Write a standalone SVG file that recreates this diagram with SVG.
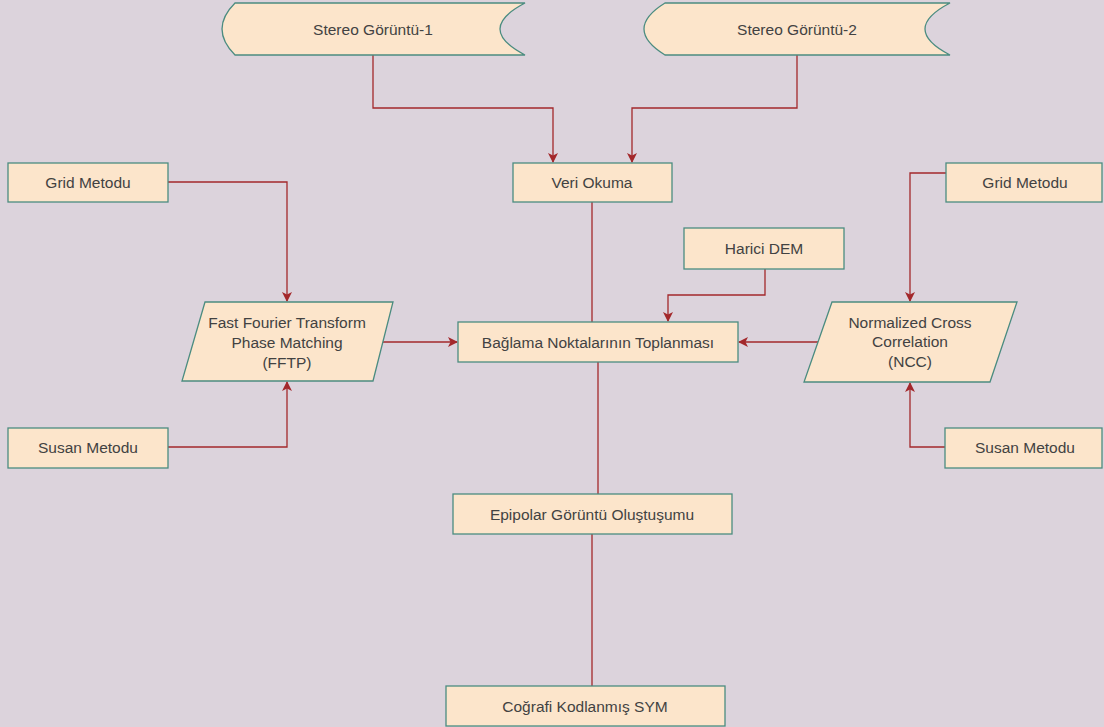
<svg xmlns="http://www.w3.org/2000/svg" width="1104" height="727" viewBox="0 0 1104 727">
<style>
.n{fill:#FCE5CB;stroke:#4B8C80;stroke-width:1.3}
.t{font-family:"Liberation Sans",Arial,sans-serif;font-size:15.5px;fill:#424242;text-anchor:middle;dominant-baseline:central}
.c{fill:none;stroke:#A3282B;stroke-width:1.3}
</style>
<defs>
<marker id="ah" viewBox="0 0 10 10" refX="9" refY="5" markerWidth="10" markerHeight="10" markerUnits="userSpaceOnUse" orient="auto">
<path d="M0,0 L10,5 L0,10 L2.5,5 Z" fill="#A3282B"/>
</marker>
</defs>
<rect width="1104" height="727" fill="#DCD3DC"/>
<g id="connectors">
<path class="c" d="M373,55 V108 H553 V162" marker-end="url(#ah)"/>
<path class="c" d="M797,55 V108 H632 V162" marker-end="url(#ah)"/>
<path class="c" d="M592,202 V322"/>
<path class="c" d="M168,182 H287 V301" marker-end="url(#ah)"/>
<path class="c" d="M168,447 H287 V382" marker-end="url(#ah)"/>
<path class="c" d="M383,342 H457" marker-end="url(#ah)"/>
<path class="c" d="M765,269 V295 H668 V321" marker-end="url(#ah)"/>
<path class="c" d="M946,173 H910 V301" marker-end="url(#ah)"/>
<path class="c" d="M945,447 H910 V383" marker-end="url(#ah)"/>
<path class="c" d="M818,342 H739" marker-end="url(#ah)"/>
<path class="c" d="M598,362 V494"/>
<path class="c" d="M592,534 V686"/>
</g>
<g id="stereo1">
<path class="n" d="M235,3 L525,3 Q475,29 525,55 L235,55 Q209,29 235,3 Z"/>
<text class="t" x="373" y="29">Stereo Görüntü-1</text>
</g>
<g id="stereo2">
<path class="n" d="M665,3 L950,3 Q900,29 950,55 L665,55 Q623,29 665,3 Z"/>
<text class="t" x="797" y="29">Stereo Görüntü-2</text>
</g>
<g id="veri">
<rect class="n" x="513" y="163" width="159" height="39"/>
<text class="t" x="592" y="182">Veri Okuma</text>
</g>
<g id="grid1">
<rect class="n" x="8" y="163" width="160" height="39"/>
<text class="t" x="88" y="182">Grid Metodu</text>
</g>
<g id="grid2">
<rect class="n" x="946" y="163" width="156" height="39"/>
<text class="t" x="1025" y="182">Grid Metodu</text>
</g>
<g id="harici">
<rect class="n" x="684" y="228" width="160" height="41"/>
<text class="t" x="764" y="248">Harici DEM</text>
</g>
<g id="fftp">
<path class="n" d="M205,302 L393,302 L373,381 L182,381 Z"/>
<text class="t" x="287" y="322">Fast Fourier Transform</text>
<text class="t" x="287" y="342">Phase Matching</text>
<text class="t" x="287" y="362">(FFTP)</text>
</g>
<g id="baglama">
<rect class="n" x="458" y="322" width="280" height="40"/>
<text class="t" x="598" y="342">Bağlama Noktalarının Toplanması</text>
</g>
<g id="ncc">
<path class="n" d="M832,302 L1017,302 L990,382 L804,382 Z"/>
<text class="t" x="910" y="322">Normalized Cross</text>
<text class="t" x="910" y="341">Correlation</text>
<text class="t" x="910" y="361">(NCC)</text>
</g>
<g id="susan1">
<rect class="n" x="8" y="428" width="160" height="40"/>
<text class="t" x="88" y="447">Susan Metodu</text>
</g>
<g id="susan2">
<rect class="n" x="945" y="428" width="157" height="40"/>
<text class="t" x="1025" y="447">Susan Metodu</text>
</g>
<g id="epipolar">
<rect class="n" x="453" y="494" width="279" height="40"/>
<text class="t" x="592" y="514">Epipolar Görüntü Oluştuşumu</text>
</g>
<g id="cografi">
<rect class="n" x="446" y="686" width="279" height="40"/>
<text class="t" x="585" y="706">Coğrafi Kodlanmış SYM</text>
</g>
</svg>
